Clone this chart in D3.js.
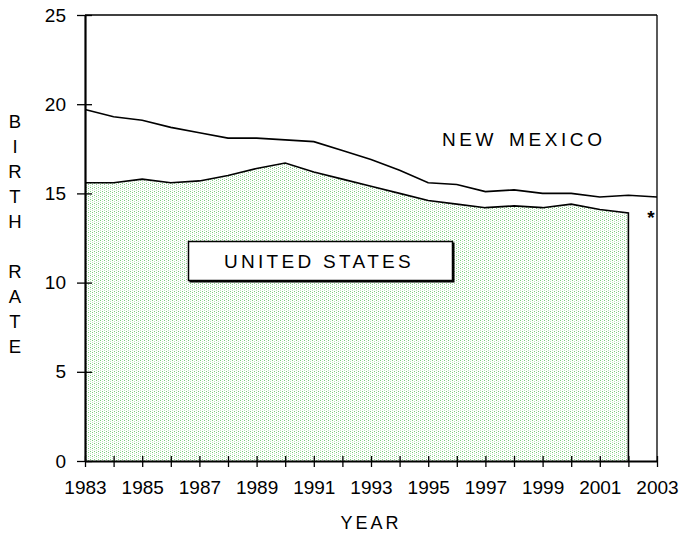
<!DOCTYPE html>
<html><head><meta charset="utf-8">
<script src="https://cdnjs.cloudflare.com/ajax/libs/d3/7.8.5/d3.min.js"></script>
<style>
html,body{margin:0;padding:0;background:#fff;}
svg{display:block;font-family:Arial,"Liberation Sans",sans-serif;}
</style></head>
<body><svg id="chart" width="679" height="537"></svg>
<script>
const years = d3.range(1983, 2004);
const newMexico = [19.7,19.3,19.1,18.7,18.4,18.1,18.1,18.0,17.9,17.4,16.9,16.3,15.6,15.5,15.1,15.2,15.0,15.0,14.8,14.9,14.8];
const usYears = d3.range(1983, 2003);
const unitedStates = [15.6,15.6,15.8,15.6,15.7,16.0,16.4,16.7,16.2,15.8,15.4,15.0,14.6,14.4,14.2,14.3,14.2,14.4,14.1,13.9];
const yTicks = [0,5,10,15,20,25];
const xLabelYears = [1983,1985,1987,1989,1991,1993,1995,1997,1999,2001,2003];
const yTitleLetters = ["B","I","R","T","H","","R","A","T","E"];

(function(){
const svg = d3.select("#chart");
const mL = 85, mR = 657, mT = 15, mB = 461;
const x = d3.scaleLinear().domain([1983, 2003]).range([mL, mR]);
const y = d3.scaleLinear().domain([0, 25]).range([mB, mT]);
const FF = "Arial, 'Liberation Sans', sans-serif";

// pattern
const defs = svg.append("defs");
const pat = defs.append("pattern").attr("id","dots").attr("patternUnits","userSpaceOnUse")
  .attr("width",4).attr("height",4);
pat.append("rect").attr("width",4).attr("height",4).attr("fill","#fff");
[[0,0,"#7ccb7c"],[0,2,"#bfe5bf"],[2,1,"#bfe5bf"],[2,3,"#7ccb7c"]].forEach(([px,py,c])=>{
  pat.append("rect").attr("x",px).attr("y",py).attr("width",1).attr("height",1).attr("fill",c);
});

const usData = usYears.map((yr,i)=>({yr, v:unitedStates[i]}));
const nmData = years.map((yr,i)=>({yr, v:newMexico[i]}));

svg.append("path").datum(usData)
  .attr("d", d3.area().x(d=>x(d.yr)).y0(y(0)).y1(d=>y(d.v)))
  .attr("fill","url(#dots)");

const lastUS = usData[usData.length-1];
svg.append("path").datum(usData.concat([{yr:lastUS.yr, v:0}]))
  .attr("d", d3.line().x(d=>x(d.yr)).y(d=>y(d.v)))
  .attr("fill","none").attr("stroke","#000").attr("stroke-width",1.6);

svg.append("path").datum(nmData)
  .attr("d", d3.line().x(d=>x(d.yr)).y(d=>y(d.v)))
  .attr("fill","none").attr("stroke","#000").attr("stroke-width",1.6);

// frame
svg.append("line").attr("x1",mL).attr("x2",mR).attr("y1",mT).attr("y2",mT).attr("stroke","#000").attr("stroke-width",1.3);
svg.append("line").attr("x1",mR).attr("x2",mR).attr("y1",mT).attr("y2",mB).attr("stroke","#000").attr("stroke-width",1.3);

// axes
const xAxis = d3.axisBottom(x).tickValues(years).tickSize(0).tickFormat(d=> xLabelYears.includes(d) ? d : "");
const gx = svg.append("g").attr("transform",`translate(0,${mB})`).call(xAxis);
gx.select(".domain").attr("stroke","#000").attr("stroke-width",2.2);
gx.selectAll(".tick line").attr("y1",-5).attr("y2",6).attr("stroke","#000").attr("stroke-width",1.3);
gx.selectAll(".tick text").attr("y",20).attr("dy","0.71em").attr("font-size",19).attr("fill","#000")
  .attr("font-family",FF);

const yAxis = d3.axisLeft(y).tickValues(yTicks).tickSize(0);
const gy = svg.append("g").attr("transform",`translate(${mL},0)`).call(yAxis);
gy.select(".domain").attr("stroke","#000").attr("stroke-width",2.2);
gy.selectAll(".tick line").attr("x1",-8).attr("x2",7).attr("stroke","#000").attr("stroke-width",1.3);
gy.selectAll(".tick text").attr("x",-19).attr("font-size",19).attr("fill","#000")
  .attr("font-family",FF);

// y title
svg.append("g").selectAll("text").data(yTitleLetters).join("text")
  .attr("x",15).attr("y",(d,i)=>122+i*25).attr("dy","0.35em").attr("text-anchor","middle")
  .attr("font-size",18.5).attr("fill","#000").attr("font-family",FF).text(d=>d);

// x title
svg.append("text").attr("x",(mL+mR)/2).attr("y",523).attr("dy","0.35em").attr("text-anchor","middle")
  .attr("font-size",18).attr("letter-spacing","3px").attr("font-family",FF).text("YEAR");

// NEW MEXICO label
svg.append("text").attr("x",442).attr("y",139).attr("dy","0.35em").attr("font-family",FF)
  .attr("font-size",19).attr("letter-spacing","3.6px").attr("word-spacing","3px").text("NEW MEXICO");

// UNITED STATES box
svg.append("rect").attr("x",189.5).attr("y",242.5).attr("width",265).attr("height",40).attr("fill","#000");
svg.append("rect").attr("x",188.5).attr("y",241.5).attr("width",264).attr("height",39)
  .attr("fill","#fff").attr("stroke","#000").attr("stroke-width",1.5);
svg.append("text").attr("x",224).attr("y",261).attr("dy","0.35em").attr("font-family",FF)
  .attr("font-size",19).attr("letter-spacing","3.3px").text("UNITED STATES");

// asterisk
svg.append("text").attr("x",651).attr("y",224).attr("text-anchor","middle").attr("font-size",19)
  .attr("font-weight","bold").attr("font-family",FF).text("*");
})();
</script></body></html>
